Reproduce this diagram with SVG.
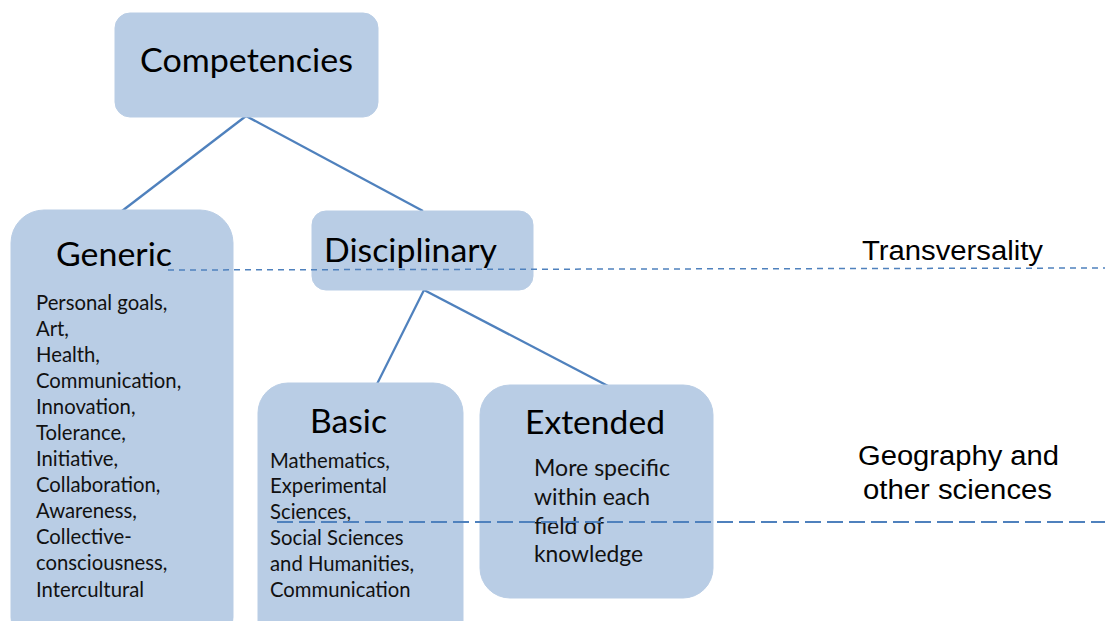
<svg xmlns="http://www.w3.org/2000/svg" width="1105" height="621" viewBox="0 0 1105 621">
<style>
.box{fill:#B9CDE5;stroke:#B9CDE5;stroke-width:1}
.title{font-family:Lato,"Open Sans",sans-serif;fill:#000}
.item{font-family:Lato,"Open Sans",sans-serif;font-size:20.3px;fill:#111}
.ext{font-family:Lato,"Open Sans",sans-serif;font-size:23px;fill:#111}
.conn{stroke:#4F81BD;stroke-width:2.3;fill:none}
.side{font-family:"Liberation Sans",Arial,sans-serif;font-size:27px;fill:#000}
</style>
<rect width="1105" height="621" fill="#fff"/>
<g id="connectors">
<line class="conn" x1="246" y1="116" x2="122" y2="211"/>
<line class="conn" x1="246" y1="116" x2="423" y2="211"/>
<line class="conn" x1="424" y1="290" x2="377" y2="384"/>
<line class="conn" x1="424" y1="290" x2="608" y2="386"/>
</g>
<g id="competencies">
<rect class="box" x="115" y="13" width="263" height="104" rx="15"/>
<text class="title" x="246.5" y="72" font-size="32" text-anchor="middle" textLength="213" lengthAdjust="spacingAndGlyphs">Competencies</text>
</g>
<g id="generic">
<rect class="box" x="11" y="210" width="222" height="440" rx="33"/>
<text class="title" x="56" y="266" font-size="32" textLength="116" lengthAdjust="spacingAndGlyphs">Generic</text>
<text class="item" x="36" y="310">Personal goals,</text>
<text class="item" x="36" y="336">Art,</text>
<text class="item" x="36" y="362">Health,</text>
<text class="item" x="36" y="388">Communication,</text>
<text class="item" x="36" y="414">Innovation,</text>
<text class="item" x="36" y="440">Tolerance,</text>
<text class="item" x="36" y="466">Initiative,</text>
<text class="item" x="36" y="492">Collaboration,</text>
<text class="item" x="36" y="518">Awareness,</text>
<text class="item" x="36" y="544">Collective-</text>
<text class="item" x="36" y="570">consciousness,</text>
<text class="item" x="36" y="597">Intercultural</text>
</g>
<g id="disciplinary">
<rect class="box" x="312" y="211" width="221" height="79" rx="14"/>
<text class="title" x="324" y="262" font-size="32" textLength="173" lengthAdjust="spacingAndGlyphs">Disciplinary</text>
</g>
<g id="basic">
<rect class="box" x="258" y="383" width="205" height="270" rx="30"/>
<text class="title" x="310" y="433" font-size="32" textLength="77" lengthAdjust="spacingAndGlyphs">Basic</text>
<text class="item" x="270" y="468">Mathematics,</text>
<text class="item" x="270" y="493">Experimental</text>
<text class="item" x="270" y="519">Sciences,</text>
<text class="item" x="270" y="545">Social Sciences</text>
<text class="item" x="270" y="571">and Humanities,</text>
<text class="item" x="270" y="597">Communication</text>
</g>
<g id="extended">
<rect class="box" x="480" y="385" width="233" height="213" rx="30"/>
<text class="title" x="525" y="434" font-size="32" textLength="140" lengthAdjust="spacingAndGlyphs">Extended</text>
<text class="ext" x="534" y="476" textLength="136" lengthAdjust="spacingAndGlyphs">More specific</text>
<text class="ext" x="534" y="505" textLength="116" lengthAdjust="spacingAndGlyphs">within each</text>
<text class="ext" x="534" y="534" textLength="70" lengthAdjust="spacingAndGlyphs">field of</text>
<text class="ext" x="534" y="562" textLength="109" lengthAdjust="spacingAndGlyphs">knowledge</text>
</g>
<g id="levels">
<line x1="168" y1="270" x2="1105" y2="268" stroke="#4F81BD" stroke-width="1.5" stroke-dasharray="6,5"/>
<line x1="277" y1="522" x2="1105" y2="522" stroke="#4F81BD" stroke-width="2" stroke-dasharray="16,6"/>
<text class="side" x="862" y="260" textLength="181" lengthAdjust="spacingAndGlyphs">Transversality</text>
<text class="side" x="858" y="465" textLength="201" lengthAdjust="spacingAndGlyphs">Geography and</text>
<text class="side" x="863" y="499" textLength="189" lengthAdjust="spacingAndGlyphs">other sciences</text>
</g>
</svg>
